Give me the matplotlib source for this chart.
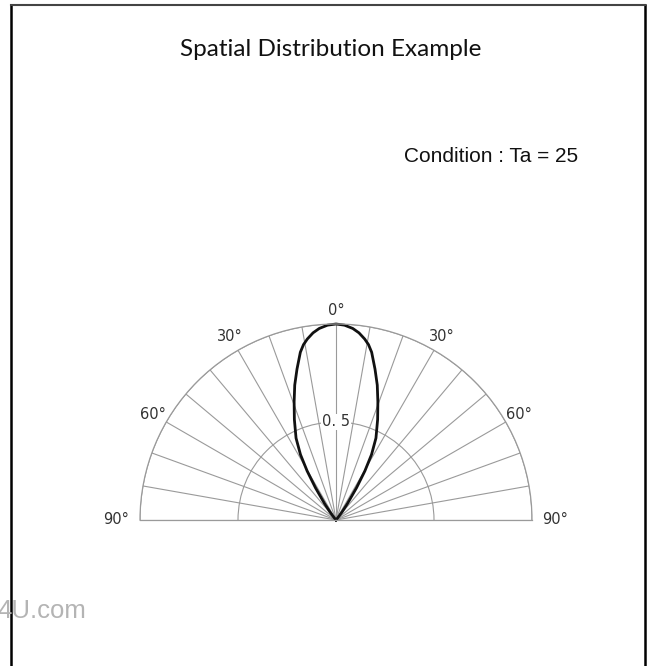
import numpy as np
import matplotlib
matplotlib.use("Agg")
import matplotlib.pyplot as plt
from matplotlib.lines import Line2D

# ---- data ----
angles_deg = [0, 2.5, 5, 7, 9, 10.5, 12, 14.5, 17, 19.5, 22.5, 26, 28.5, 30.5,
              32.5, 35, 37, 39, 40, 90]
rel_intensity = [1.0, 0.995, 0.981, 0.962, 0.935, 0.91, 0.875, 0.795, 0.72, 0.64,
                 0.555, 0.465, 0.38, 0.29, 0.195, 0.10, 0.05, 0.015, 0.0, 0.0]
grid_angles = list(range(-90, 91, 10))
label_angles = [-90, -60, -30, 0, 30, 60, 90]
label_texts = ["90°", "60°", "30°", "0°", "30°", "60°", "90°"]
title = "Spatial Distribution Example"
condition = "Condition : Ta = 25"

W, H = 650, 666
fig = plt.figure(figsize=(W / 100, H / 100), dpi=100)
fig.patch.set_facecolor("white")

# frame lines
fig.add_artist(Line2D([11 / W, 11 / W], [0, 1 - 5 / H], color="black", lw=1.8))
fig.add_artist(Line2D([645 / W, 645 / W], [0, 1 - 5 / H], color="black", lw=1.8))
fig.add_artist(Line2D([11 / W, 645 / W], [1 - 5 / H, 1 - 5 / H], color="#444444", lw=1.5))

fig.text(331 / W, 1 - 49 / H, title, ha="center", va="center", fontsize=17.5,
         family=["Lato", "DejaVu Sans"], color="#111111")
fig.text(404 / W, 1 - 156 / H, condition, ha="left", va="center", fontsize=15,
         family=["Liberation Sans", "DejaVu Sans"], color="#111111")
fig.text(86 / W, 1 - 611 / H, "4U.com", ha="right", va="center", fontsize=18.5,
         family=["Liberation Sans", "DejaVu Sans"], color="#b4b4b4")

# polar axes (semicircle); wedge occupies middle half of a square box
cx, cy, R = 336, 520, 196
top = cy - 1.5 * R
ax = fig.add_axes([(cx - R) / W, (H - (top + 2 * R)) / H, 2 * R / W, 2 * R / H],
                  projection="polar")
ax.set_theta_zero_location("N")
ax.set_theta_direction(-1)
ax.set_thetamin(-90)
ax.set_thetamax(90)
ax.set_ylim(0, 1.0)
ax.set_facecolor("white")

gcol = "#9a9a9a"
ax.set_thetagrids(grid_angles, labels=[""] * len(grid_angles))
ax.set_rgrids([0.5, 1.0], labels=["", ""])
ax.grid(True, color=gcol, lw=0.8)
for s in ax.spines.values():
    s.set_color(gcol)
    s.set_linewidth(0.9)
ax.tick_params(pad=0)

lab_font = ["Liberation Sans Narrow", "DejaVu Sans Condensed", "DejaVu Sans"]
for a, t in zip(label_angles, label_texts):
    th = np.deg2rad(a)
    r = 1.12 if abs(a) == 90 else (1.08 if a != 0 else 1.07)
    ax.text(th, r, t, ha="center", va="center", fontsize=10.5,
            family=lab_font, color="#333333")

ax.text(0, 0.5, "0. 5", ha="center", va="center", fontsize=10.5,
        family=lab_font, color="#333333",
        bbox=dict(facecolor="white", edgecolor="none", pad=0.5))

# lobe
ang = np.array(angles_deg, dtype=float)
ri = np.array(rel_intensity)
th_full = np.deg2rad(np.concatenate([-ang[::-1], ang[1:]]))
r_full = np.concatenate([ri[::-1], ri[1:]])
ax.plot(th_full, r_full, color="#111111", lw=2.0, clip_on=False,
        solid_joinstyle="round")

fig.savefig("out.png", dpi=100)
